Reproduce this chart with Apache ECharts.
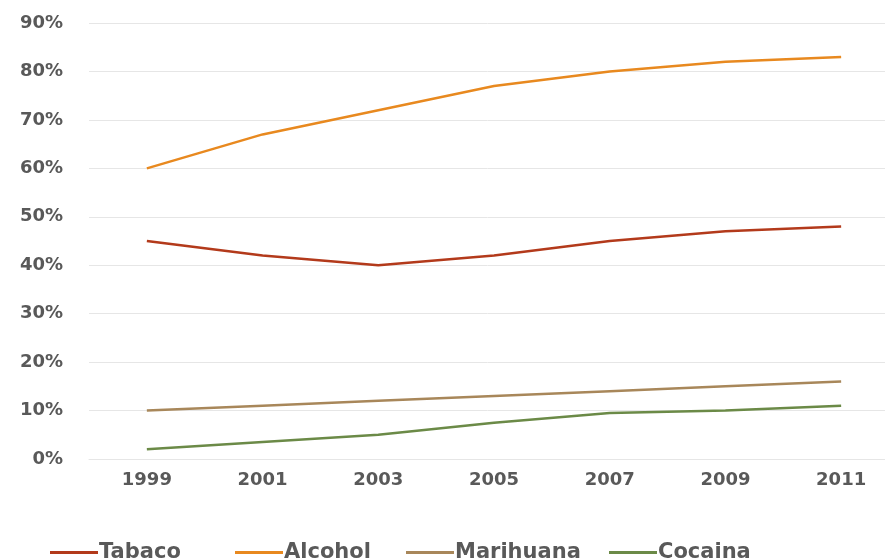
<!DOCTYPE html>
<html>
<head>
<meta charset="utf-8">
<script src="https://cdn.jsdelivr.net/npm/echarts@6/dist/echarts.min.js"></script>
<style>
html, body { margin: 0; padding: 0; background: #fff; }
#chart { width: 885px; height: 559px; }
</style>
</head>
<body>
<div id="chart"></div>
<script>
var years = ['1999', '2001', '2003', '2005', '2007', '2009', '2011'];
var tabaco = [45, 42, 40, 42, 45, 47, 48];
var alcohol = [60, 67, 72, 77, 80, 82, 83];
var marihuana = [10, 11, 12, 13, 14, 15, 16];
var cocaina = [2, 3.5, 5, 7.5, 9.5, 10, 11];

var myChart = echarts.init(document.getElementById('chart'));
var font = 'DejaVu Sans';

function line(name, data, color) {
    return {
        name: name,
        type: 'line',
        data: data,
        symbol: 'none',
        lineStyle: { color: color, width: 2.5 },
        itemStyle: { color: color }
    };
}

// one legend per item so each sits where it does in the original
function legendAt(name, left) {
    return {
        top: 537,
        left: left,
        itemWidth: 48,
        itemHeight: 3,
        icon: 'rect',
        textStyle: { fontFamily: font, fontWeight: 'bold', fontSize: 21, color: '#595959', padding: [0, 0, 0, -4] },
        data: [name]
    };
}

var option = {
    animation: false,
    grid: { left: 89, top: 23, right: -14, height: 436, outerBoundsMode: 'none', containLabel: false },
    legend: [
        legendAt('Tabaco', 45),
        legendAt('Alcohol', 230),
        legendAt('Marihuana', 401),
        legendAt('Cocaina', 604)
    ],
    xAxis: {
        type: 'category',
        boundaryGap: true,
        data: years,
        axisLine: { lineStyle: { color: '#e6e6e6' } },
        axisTick: { show: false },
        axisLabel: { fontFamily: font, fontWeight: 'bold', fontSize: 18, color: '#595959', margin: 12 }
    },
    yAxis: {
        type: 'value',
        min: 0,
        max: 90,
        interval: 10,
        axisLine: { show: false },
        axisTick: { show: false },
        splitLine: { lineStyle: { color: '#e6e6e6' } },
        axisLabel: {
            fontFamily: font, fontWeight: 'bold', fontSize: 18, color: '#595959', margin: 26,
            formatter: '{value}%'
        }
    },
    series: [
        line('Tabaco', tabaco, '#b33a1b'),
        line('Alcohol', alcohol, '#e8891f'),
        line('Marihuana', marihuana, '#a8875a'),
        line('Cocaina', cocaina, '#6b8a47')
    ]
};

myChart.setOption(option);
</script>
</body>
</html>
